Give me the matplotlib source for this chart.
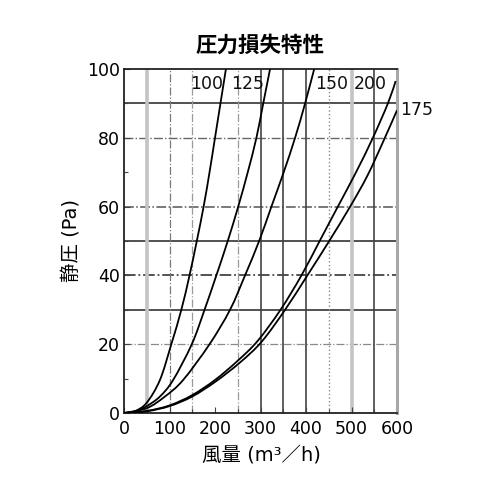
import matplotlib
matplotlib.use("Agg")
import matplotlib.pyplot as plt
from matplotlib.path import Path
from matplotlib.patches import PathPatch

plt.rcParams['font.family'] = ['DejaVu Sans', 'Noto Sans CJK JP']

# ---- data (flow m3/h, pressure Pa) ----
flow_100 = [0, 25, 50, 79, 104, 126, 144, 160, 175, 188, 200, 212, 224]
pres_100 = [0, 0.6, 3, 9.6, 20, 30, 40, 50, 60, 70, 80, 90, 100]

flow_125 = [0, 25, 50, 79, 108, 149, 177, 203, 228, 251, 272, 291, 306, 321]
pres_125 = [0, 0.4, 2, 4.8, 9.6, 20, 30, 40, 50, 60, 70, 80, 90, 100]

flow_150 = [0, 50, 90, 130, 188, 233, 266, 297, 324, 351, 376, 398, 418]
pres_150 = [0, 1.4, 4.8, 9.6, 20, 30, 40, 50, 60, 70, 80, 90, 100]

flow_200 = [0, 50, 100, 150, 200, 250, 294, 344, 390, 430, 470, 510, 547, 580, 597]
pres_200 = [0, 0.6, 2.2, 5.2, 9.6, 15.2, 21.0, 30, 40, 50, 60, 70, 80, 90, 96.5]

flow_175 = [0, 50, 100, 150, 202, 256, 303, 354, 403, 451, 497, 535, 570, 600]
pres_175 = [0, 0.5, 2.0, 4.8, 9.2, 14.8, 20.8, 30, 40, 50, 60, 69, 79, 88]

series = [("100", flow_100, pres_100), ("125", flow_125, pres_125),
          ("150", flow_150, pres_150), ("200", flow_200, pres_200),
          ("175", flow_175, pres_175)]

label_names = ["100", "125", "150", "200", "175"]
label_x = [181, 271, 456, 542, 643]
label_y = [95.5, 95.5, 95.5, 95.5, 88]

x_ticks = [0, 100, 200, 300, 400, 500, 600]
y_ticks = [0, 20, 40, 60, 80, 100]

title = "圧力損失特性"
xlabel = "風量 (m³／h)"
ylabel = "静圧 (Pa)"


def smooth_path(xs, ys):
    """Catmull-Rom curve through the read points, as cubic Bezier path."""
    pts = list(zip(xs, ys))
    n = len(pts)
    verts = [pts[0]]
    codes = [Path.MOVETO]
    for i in range(n - 1):
        p0 = pts[i - 1] if i > 0 else pts[i]
        p1 = pts[i]
        p2 = pts[i + 1]
        p3 = pts[i + 2] if i + 2 < n else pts[i + 1]
        b1 = (p1[0] + (p2[0] - p0[0]) / 6.0, p1[1] + (p2[1] - p0[1]) / 6.0)
        b2 = (p2[0] - (p3[0] - p1[0]) / 6.0, p2[1] - (p3[1] - p1[1]) / 6.0)
        verts += [b1, b2, p2]
        codes += [Path.CURVE4] * 3
    return Path(verts, codes)


# ---- figure ----
fig = plt.figure(figsize=(5, 5), dpi=100)
ax = fig.add_axes([0.248, 0.174, 0.546, 0.688])
ax.set_xlim(0, 600)
ax.set_ylim(0, 100)

hgrid = [(20, '-.', '#8a8a8a', 0.9), (30, '-', '#333333', 1.2),
         (40, '-.', '#444444', 1.3), (50, '-', '#333333', 1.2),
         (60, '-.', '#555555', 1.1), (80, '-.', '#666666', 1.0),
         (90, '-', '#333333', 1.2)]
for yv, ls, c, lw in hgrid:
    ax.axhline(yv, ls=ls, color=c, lw=lw, zorder=1)

vgrid = [(50, '-', '#c4c4c4', 2.6), (100, '-.', '#7a7a7a', 0.9),
         (150, '-.', '#9a9a9a', 0.9), (250, '-.', '#9a9a9a', 0.9),
         (300, '-', '#444444', 1.2), (350, '-', '#444444', 1.2),
         (400, '-', '#444444', 1.2), (450, ':', '#888888', 1.0),
         (500, '-', '#c4c4c4', 2.6), (550, '-', '#444444', 1.2)]
for xv, ls, c, lw in vgrid:
    ax.axvline(xv, ls=ls, color=c, lw=lw, zorder=1)

for name, fx, py in series:
    patch = PathPatch(smooth_path(fx, py), facecolor='none', edgecolor='black',
                      lw=1.3, zorder=3)
    ax.add_patch(patch)

for t, lx, ly in zip(label_names, label_x, label_y):
    ax.text(lx, ly, t, ha='center', va='center', fontsize=12.5,
            color='#111111', clip_on=False, zorder=4)

for s in ['left', 'bottom', 'top']:
    ax.spines[s].set_color('#222222')
    ax.spines[s].set_linewidth(1.3)
ax.spines['right'].set_color('#a8a8a8')
ax.spines['right'].set_linewidth(2.2)

ax.set_xticks(x_ticks)
ax.set_yticks(y_ticks)
ax.set_xticks(range(0, 601, 50), minor=True)
ax.set_yticks(range(0, 101, 10), minor=True)
ax.tick_params(axis='both', which='both', direction='in', color='#444444')
ax.tick_params(axis='both', which='major', length=4, width=0.8, labelsize=12.5)
ax.tick_params(axis='both', which='minor', length=3, width=0.8)
ax.tick_params(axis='y', which='major', pad=3)
ax.tick_params(axis='x', which='major', pad=5)

fig.text(0.521, 0.91, title, ha='center', va='center', fontsize=15.5,
         fontweight='bold')
fig.text(0.522, 0.09, xlabel, ha='center', va='center', fontsize=14)
fig.text(0.142, 0.519, ylabel, ha='center', va='center', fontsize=14, rotation=90)

fig.savefig("out.png", dpi=100)
